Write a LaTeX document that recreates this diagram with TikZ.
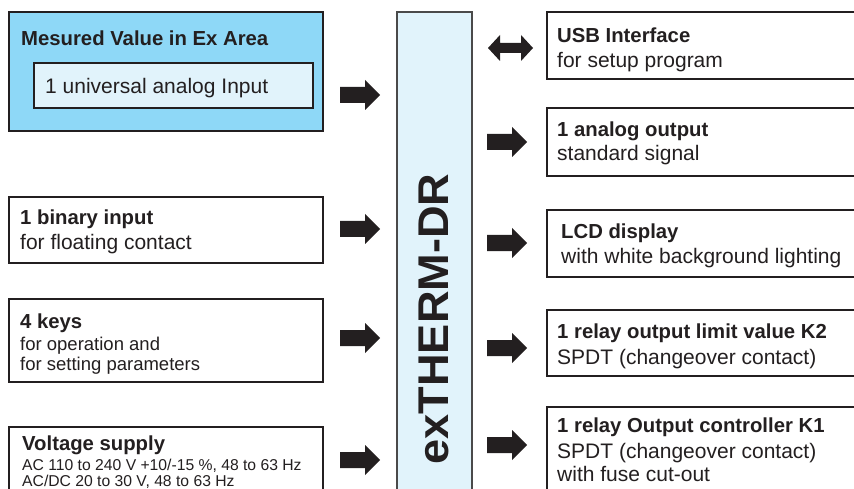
\documentclass[tikz,border=0pt]{standalone}
\usepackage{fontspec}
\setmainfont{Liberation Sans}
\definecolor{ink}{HTML}{231F20}
\definecolor{exblue}{HTML}{8ED8F7}
\definecolor{paleblue}{HTML}{E1F3FB}
\definecolor{bargray}{HTML}{4A4A4A}
\begin{document}
\begin{tikzpicture}[x=1pt,y=-1pt,
  box/.style={draw=ink, line width=1.6pt, fill=white, rectangle, inner sep=0pt},
  head/.style={anchor=base west, inner sep=0pt, text=ink, font=\bfseries\fontsize{20.3}{24}\selectfont},
  body/.style={anchor=base west, inner sep=0pt, text=ink, font=\fontsize{21}{24}\selectfont},
  mid/.style={anchor=base west, inner sep=0pt, text=ink, font=\fontsize{18.5}{21}\selectfont},
  small/.style={anchor=base west, inner sep=0pt, text=ink, font=\fontsize{15.7}{18}\selectfont},
  rarrow/.pic={\fill[ink] (0,-8) -- (25,-8) -- (25,-15) -- (40,0) -- (25,15) -- (25,8) -- (0,8) -- cycle;},
  darrow/.pic={\fill[ink] (0,0) -- (12,-13) -- (12,-5) -- (33,-5) -- (33,-13) -- (45,0) -- (33,13) -- (33,5) -- (12,5) -- (12,13) -- cycle;}
]
\useasboundingbox (0,0) rectangle (854,489);
\clip (0,0) rectangle (854,489);

% left side
\node[box, fill=exblue, minimum width=314pt, minimum height=119pt] (mv) at (166,71.5) {};
\node[box, fill=paleblue, minimum width=279pt, minimum height=45pt] (inp) at (173.5,85.5) {};
\node[head] (mvt) at (21,46) {Mesured Value in Ex Area};
\node[body] (inpt) at (45,94) {1 universal analog Input};

\node[box, minimum width=314pt, minimum height=66pt] (bin) at (166,230) {};
\node[head] (bin1) at (20,225) {1 binary input};
\node[body] (bin2) at (20,250) {for floating contact};

\node[box, minimum width=314pt, minimum height=83pt] (keys) at (166,340.5) {};
\node[head] (keys1) at (20,328) {4 keys};
\node[mid] (keys2) at (20,350) {for operation and};
\node[mid] (keys3) at (20,370) {for setting parameters};

\node[box, minimum width=314pt, minimum height=90pt] (volt) at (166,472) {};
\node[head] (volt1) at (22,450) {Voltage supply};
\node[small] (volt2) at (22,470) {AC 110 to 240 V +10/-15 \%, 48 to 63 Hz};
\node[small] (volt3) at (22,486.5) {AC/DC 20 to 30 V, 48 to 63 Hz};

% central bar
\node[box, draw=bargray, fill=paleblue, minimum width=75pt, minimum height=500pt] (bar) at (434.5,262) {};
\node[rotate=90, inner sep=0pt, text=ink, font=\bfseries\fontsize{43}{43}\selectfont] (title) at (433.5,319) {\scalebox{1.05}[1]{exTHERM-DR}};

% right side
\node[box, minimum width=323pt, minimum height=67pt] (usb) at (708.5,45.5) {};
\node[head] (usb1) at (557,43) {USB Interface};
\node[body] (usb2) at (557,68) {for setup program};

\node[box, minimum width=323pt, minimum height=68pt] (aout) at (708.5,142) {};
\node[head] (aout1) at (557,137) {1 analog output};
\node[body] (aout2) at (557,161) {standard signal};

\node[box, minimum width=323pt, minimum height=67pt] (lcd) at (708.5,243.5) {};
\node[head] (lcd1) at (561,238) {LCD display};
\node[body] (lcd2) at (561,263) {with white background lighting};

\node[box, minimum width=323pt, minimum height=66pt] (ktwo) at (708.5,343) {};
\node[head] (ktwo1) at (557,338) {1 relay output limit value K2};
\node[body] (ktwo2) at (557,364) {SPDT (changeover contact)};

\node[box, minimum width=323pt, minimum height=100pt] (kone) at (708.5,457) {};
\node[head] (kone1) at (557,432) {1 relay Output controller K1};
\node[body] (kone2) at (557,458) {SPDT (changeover contact)};
\node[body] (kone3) at (557,481) {with fuse cut-out};

% block arrows
\pic at (340,95) {rarrow};
\pic at (340,229) {rarrow};
\pic at (340,338) {rarrow};
\pic at (340,460) {rarrow};
\pic at (488,48) {darrow};
\pic at (487,142) {rarrow};
\pic at (487,243) {rarrow};
\pic at (487,348) {rarrow};
\pic at (487,445) {rarrow};
\end{tikzpicture}
\end{document}
